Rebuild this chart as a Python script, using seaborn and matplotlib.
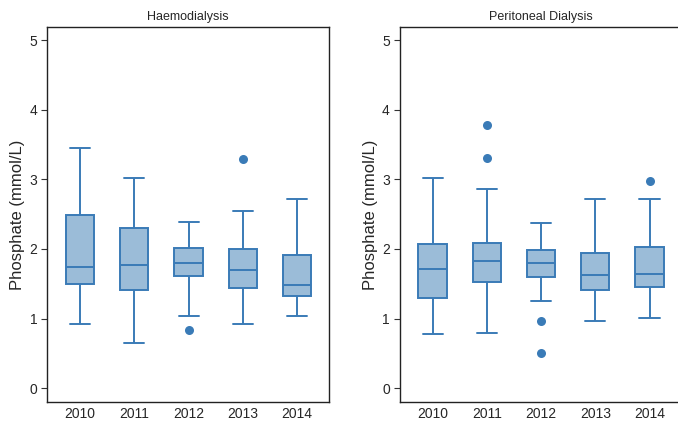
import numpy as np
import pandas as pd
import matplotlib
matplotlib.use("Agg")
import matplotlib.pyplot as plt
import seaborn as sns

sns.set_style("ticks")
plt.rcParams["font.family"] = ["Liberation Sans", "DejaVu Sans"]

years = ["2010", "2011", "2012", "2013", "2014"]

# Five-number summaries per year: lower whisker, Q1, median, Q3, upper whisker
hd_low = [0.92, 0.65, 1.04, 0.92, 1.04]
hd_q1 = [1.50, 1.415, 1.61, 1.445, 1.325]
hd_med = [1.745, 1.765, 1.795, 1.70, 1.487]
hd_q3 = [2.487, 2.305, 2.018, 2.004, 1.918]
hd_high = [3.445, 3.02, 2.39, 2.54, 2.717]
hd_out_year = ["2012", "2013"]
hd_out_val = [0.832, 3.29]

pd_low = [0.78, 0.785, 1.25, 0.97, 1.005]
pd_q1 = [1.29, 1.522, 1.59, 1.416, 1.455]
pd_med = [1.713, 1.828, 1.804, 1.632, 1.641]
pd_q3 = [2.067, 2.091, 1.986, 1.947, 2.029]
pd_high = [3.02, 2.856, 2.373, 2.713, 2.718]
pd_out_year = ["2011", "2011", "2012", "2012", "2014"]
pd_out_val = [3.775, 3.30, 0.967, 0.507, 2.971]

titles = ["Haemodialysis", "Peritoneal Dialysis"]

EDGE = "#3a7bb7"
FILL = "#9bbcd8"


def summary_frame(low, q1, med, q3, high):
    rows = []
    for yr, *vals in zip(years, low, q1, med, q3, high):
        for v in vals:
            rows.append({"year": yr, "value": v})
    return pd.DataFrame(rows)


panels = [
    (summary_frame(hd_low, hd_q1, hd_med, hd_q3, hd_high),
     pd.DataFrame({"year": hd_out_year, "value": hd_out_val})),
    (summary_frame(pd_low, pd_q1, pd_med, pd_q3, pd_high),
     pd.DataFrame({"year": pd_out_year, "value": pd_out_val})),
]

fig = plt.figure(figsize=(6.78, 4.25), dpi=100)
ax_boxes = [
    fig.add_axes([47 / 678, 23 / 425, 282 / 678, 375 / 425]),
    fig.add_axes([399.5 / 678, 23 / 425, 282 / 678, 375 / 425]),
]

for ax, (box_df, out_df), title in zip(ax_boxes, panels, titles):
    sns.boxplot(
        data=box_df, x="year", y="value", order=years, ax=ax,
        whis=(0, 100), width=0.52, color=FILL, saturation=1,
        linecolor=EDGE, linewidth=1.4, showfliers=False,
        capwidths=0.37,
    )
    sns.stripplot(
        data=out_df, x="year", y="value", order=years, ax=ax,
        jitter=False, color=EDGE, size=6.5, linewidth=0,
    )
    ax.set_xlim(-0.61, 4.59)
    ax.set_ylim(-0.2, 5.19)
    ax.set_yticks([0, 1, 2, 3, 4, 5])
    ax.set_xlabel("")
    ax.set_ylabel("Phosphate (mmol/L)", fontsize=12, labelpad=3)
    ax.set_title(title, fontsize=9, pad=5)
    ax.tick_params(axis="x", length=0, labelsize=10, pad=3.5)
    ax.tick_params(axis="y", length=4, width=0.8, labelsize=10, pad=3,
                   color="#333333")
    for s in ax.spines.values():
        s.set_visible(True)
        s.set_color("#222222")
        s.set_linewidth(1.0)

fig.savefig("out.png", dpi=100)
